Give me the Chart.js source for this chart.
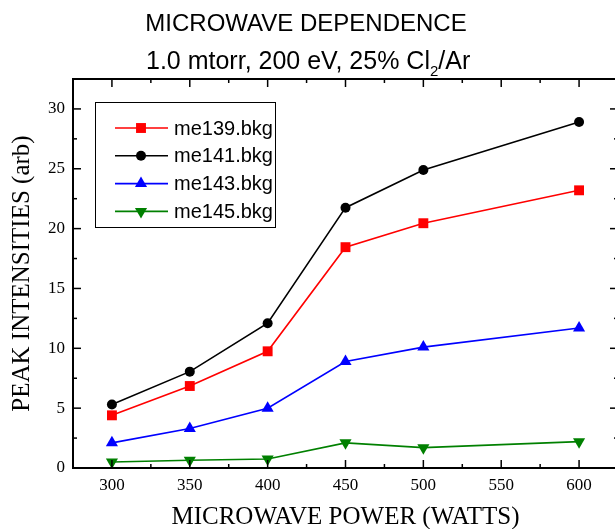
<!DOCTYPE html>
<html>
<head>
<meta charset="utf-8">
<script src="https://cdn.jsdelivr.net/npm/chart.js@4/dist/chart.umd.min.js"></script>
<style>
  html, body { margin: 0; padding: 0; background: #fff; overflow: hidden; }
  #wrap { width: 630px; height: 529px; }
</style>
</head>
<body>
<div id="wrap"><canvas id="chartPower"></canvas></div>
<script>
// data
const power = [300, 350, 400, 450, 500, 600];
const me139 = [4.4, 6.85, 9.75, 18.45, 20.45, 23.2];
const me141 = [5.3, 8.05, 12.1, 21.75, 24.9, 28.9];
const me143 = [2.1, 3.3, 5.0, 8.9, 10.1, 11.7];
const me145 = [0.5, 0.65, 0.75, 2.1, 1.7, 2.2];
const seriesNames = ['me139.bkg', 'me141.bkg', 'me143.bkg', 'me145.bkg'];
const xTicks = [300, 350, 400, 450, 500, 550, 600];
const yTicks = [0, 5, 10, 15, 20, 25, 30];

const SERIF = '"Liberation Serif", "Times New Roman", serif';
const SANS = '"Liberation Sans", Arial, sans-serif';

function toPoints(ys) {
  return power.map((x, i) => ({ x, y: ys[i] }));
}

function makeSet(label, ys, color, style, radius, rotation) {
  return {
    label,
    data: toPoints(ys),
    borderColor: color,
    backgroundColor: color,
    borderWidth: 1.6,
    pointStyle: style,
    pointRadius: radius,
    pointRotation: rotation || 0,
    pointBorderWidth: 0,
    pointBackgroundColor: color,
    tension: 0
  };
}

const datasets = [
  makeSet(seriesNames[0], me139, '#ff0000', 'rect', 7),
  makeSet(seriesNames[1], me141, '#000000', 'circle', 5),
  makeSet(seriesNames[2], me143, '#0000ff', 'triangle', 7),
  makeSet(seriesNames[3], me145, '#008000', 'triangle', 7, 180)
];

// frame, inward ticks on all four sides, titles and legend
const decorPlugin = {
  id: 'decor',
  afterDatasetsDraw(chart) {
    const ctx = chart.ctx;
    const a = chart.chartArea;
    const xs = chart.scales.x, ys = chart.scales.y;
    ctx.save();
    ctx.strokeStyle = '#000';

    ctx.lineWidth = 1.5;
    const tick = (x1, y1, x2, y2) => {
      ctx.beginPath(); ctx.moveTo(x1, y1); ctx.lineTo(x2, y2); ctx.stroke();
    };
    for (let v = 300; v <= 600; v += 25) {
      const px = xs.getPixelForValue(v);
      const len = v % 50 === 0 ? 8 : 4;
      tick(px, a.bottom, px, a.bottom - len);
      tick(px, a.top, px, a.top + len);
    }
    for (let v = 0; v <= 32.5; v += 2.5) {
      const py = ys.getPixelForValue(v);
      const len = v % 5 === 0 ? 8 : 4;
      tick(a.left, py, a.left + len, py);
      tick(a.right, py, a.right - len, py);
    }

    ctx.lineWidth = 2;
    ctx.strokeRect(a.left, a.top, a.right - a.left, a.bottom - a.top);

    // titles
    ctx.fillStyle = '#000';
    ctx.textBaseline = 'alphabetic';
    ctx.textAlign = 'center';
    ctx.font = '24px ' + SANS;
    ctx.fillText('MICROWAVE DEPENDENCE', 306, 31);

    const parts = ['1.0 mtorr, 200 eV, 25% Cl', '2', '/Ar'];
    let sx = 146;
    ctx.textAlign = 'left';
    ctx.font = '25px ' + SANS;
    ctx.fillText(parts[0], sx, 69);
    sx += ctx.measureText(parts[0]).width;
    ctx.font = '15px ' + SANS;
    ctx.fillText(parts[1], sx, 76);
    sx += ctx.measureText(parts[1]).width;
    ctx.font = '25px ' + SANS;
    ctx.fillText(parts[2], sx, 69);

    // axis titles
    ctx.textAlign = 'center';
    ctx.font = '25px ' + SERIF;
    ctx.fillText('MICROWAVE POWER (WATTS)', (a.left + a.right) / 2, 524);
    ctx.save();
    ctx.translate(29, (a.top + a.bottom) / 2);
    ctx.rotate(-Math.PI / 2);
    ctx.fillText('PEAK INTENSITIES (arb)', 0, 0);
    ctx.restore();

    // legend
    const bx = 95, by = 102, bw = 180, bh = 125;
    ctx.lineWidth = 1;
    ctx.strokeStyle = '#000';
    ctx.strokeRect(bx + 0.5, by + 0.5, bw, bh);
    ctx.font = '20px ' + SANS;
    ctx.textAlign = 'left';
    ctx.textBaseline = 'middle';
    chart.data.datasets.forEach((ds, i) => {
      const ly = 128 + i * 27.8;
      ctx.strokeStyle = ds.borderColor;
      ctx.lineWidth = 1.6;
      ctx.beginPath(); ctx.moveTo(115, ly); ctx.lineTo(168, ly); ctx.stroke();
      ctx.fillStyle = ds.backgroundColor;
      Chart.helpers.drawPoint(ctx, {
        pointStyle: ds.pointStyle,
        radius: ds.pointRadius,
        rotation: ds.pointRotation,
        borderWidth: 0
      }, 141, ly);
      ctx.fillStyle = '#000';
      ctx.fillText(ds.label, 174, ly + 1);
    });
    ctx.restore();
  }
};

new Chart(document.getElementById('chartPower'), {
  type: 'line',
  data: { datasets },
  options: {
    responsive: true,
    maintainAspectRatio: false,
    animation: false,
    layout: { padding: { top: 79, left: 0, right: 12, bottom: 0 } },
    plugins: {
      legend: { display: false },
      title: { display: false },
      tooltip: { enabled: false }
    },
    scales: {
      x: {
        type: 'linear',
        min: 275,
        max: 625,
        afterBuildTicks: s => { s.ticks = xTicks.map(v => ({ value: v })); },
        afterFit: s => { s.height = 61; },
        grid: { display: false, drawTicks: false },
        border: { display: false },
        ticks: { padding: 7, color: '#000', font: { family: SERIF, size: 17 } }
      },
      y: {
        type: 'linear',
        min: 0,
        max: 32.5,
        afterBuildTicks: s => { s.ticks = yTicks.map(v => ({ value: v })); },
        afterFit: s => { s.width = 73; },
        grid: { display: false, drawTicks: false },
        border: { display: false },
        ticks: { padding: 8, color: '#000', font: { family: SERIF, size: 17 } }
      }
    }
  },
  plugins: [decorPlugin]
});
</script>
</body>
</html>
